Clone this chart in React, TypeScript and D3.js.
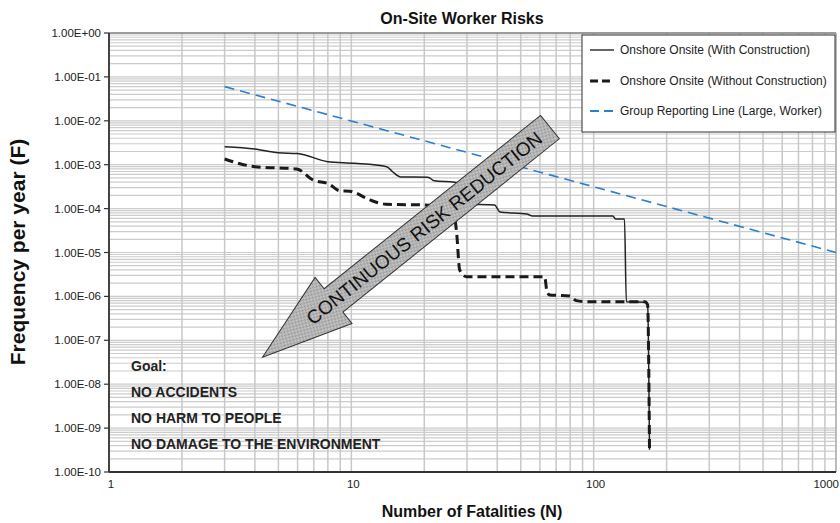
import React, { useEffect, useRef } from "react";
import * as d3 from "d3";

// F-N curve values
const withConstructionN = [3, 4, 5, 6, 8, 10.3, 14, 14.8, 16, 20.7, 22, 26.7, 28.5, 29.5, 39, 41, 53, 56, 120, 123, 134, 136.4, 164, 167, 170];
const withConstructionF = [2.57e-3, 2.28e-3, 1.87e-3, 1.8e-3, 1.17e-3, 1.08e-3, 9.0e-4, 6.9e-4, 5.25e-4, 5.2e-4, 4.3e-4, 4.0e-4, 3.6e-4, 1.27e-4, 1.21e-4, 8.4e-5, 7.5e-5, 6.8e-5, 6.8e-5, 5.8e-5, 5.8e-5, 7.6e-7, 7.4e-7, 6.4e-7, 3.2e-10];

const withoutConstructionN = [3, 4, 5.95, 6.95, 8.1, 8.95, 9.85, 11.9, 13.9, 21, 26, 27.2, 28, 29.9, 62.8, 64, 65.7, 79.6, 84.8, 93, 162.5, 167, 170];
const withoutConstructionF = [1.35e-3, 9.0e-4, 8.0e-4, 4.5e-4, 3.6e-4, 2.55e-4, 2.5e-4, 1.58e-4, 1.26e-4, 1.2e-4, 1.1e-4, 2.8e-5, 4e-6, 2.8e-6, 2.8e-6, 1.4e-6, 1.08e-6, 1.02e-6, 8.0e-7, 7.6e-7, 7.6e-7, 6.4e-7, 3.2e-10];

const reportingLineN = [3, 1000];
const reportingLineF = [0.06, 1e-5];

const xTicks = [1, 10, 100, 1000];
const yTicks = [1, 1e-1, 1e-2, 1e-3, 1e-4, 1e-5, 1e-6, 1e-7, 1e-8, 1e-9, 1e-10];
const yTickLabels = ["1.00E+00", "1.00E-01", "1.00E-02", "1.00E-03", "1.00E-04", "1.00E-05", "1.00E-06", "1.00E-07", "1.00E-08", "1.00E-09", "1.00E-10"];

const legendLabels = ["Onshore Onsite (With Construction)", "Onshore Onsite (Without Construction)", "Group Reporting Line (Large, Worker)"];
const goalLines = ["Goal:", "NO ACCIDENTS", "NO HARM TO PEOPLE", "NO DAMAGE TO THE ENVIRONMENT"];

// big annotation arrow, tip and tail centre in data units
const arrowTip = [4.3, 4.1e-8];
const arrowTail = [66, 7.2e-3];

const FONT = "'Liberation Sans', Arial, Helvetica, sans-serif";

export default function App() {
  const ref = useRef<SVGSVGElement>(null);

  useEffect(() => {
    const svg = d3.select(ref.current);
    svg.selectAll("*").remove();

    const left = 109, right = 836, top = 33, bottom = 472;
    const x = d3.scaleLog().domain([1, 1000]).range([left, right]);
    const y = d3.scaleLog().domain([1e-10, 1]).range([bottom, top]);

    const defs = svg.append("defs");
    const pat = defs.append("pattern")
      .attr("id", "hatch")
      .attr("width", 2).attr("height", 2)
      .attr("patternUnits", "userSpaceOnUse");
    pat.append("rect").attr("width", 2).attr("height", 2).attr("fill", "#cfcfcf");
    pat.append("rect").attr("width", 1).attr("height", 1).attr("fill", "#8c8c8c");
    pat.append("rect").attr("x", 1).attr("y", 1).attr("width", 1).attr("height", 1).attr("fill", "#a0a0a0");

    // grid
    const grid = svg.append("g");
    const xGrid: number[] = [];
    for (let k = 0; k < 3; k++) for (let m = 1; m < 10; m++) xGrid.push(m * Math.pow(10, k));
    xGrid.push(1000);
    const yGrid: number[] = [];
    for (let k = -10; k < 0; k++) for (let m = 1; m < 10; m++) yGrid.push(m * Math.pow(10, k));
    yGrid.push(1);

    grid.selectAll(".hg").data(yGrid).enter().append("line")
      .attr("x1", left).attr("x2", right)
      .attr("y1", d => y(d)).attr("y2", d => y(d))
      .attr("stroke", "#cccccc").attr("stroke-width", 1.2);
    grid.selectAll(".vg").data(xGrid).enter().append("line")
      .attr("y1", top).attr("y2", bottom)
      .attr("x1", d => x(d)).attr("x2", d => x(d))
      .attr("stroke", "#c8c8c8").attr("stroke-width", 1.5);

    // frame
    svg.append("line").attr("x1", left).attr("x2", right).attr("y1", top).attr("y2", top)
      .attr("stroke", "#555").attr("stroke-width", 1.2);
    svg.append("line").attr("x1", right).attr("x2", right).attr("y1", top).attr("y2", bottom)
      .attr("stroke", "#aaa").attr("stroke-width", 1.2);
    svg.append("line").attr("x1", left).attr("x2", right).attr("y1", bottom).attr("y2", bottom)
      .attr("stroke", "#333").attr("stroke-width", 1.8);
    svg.append("line").attr("x1", left).attr("x2", left).attr("y1", top).attr("y2", bottom)
      .attr("stroke", "#333").attr("stroke-width", 1.8);

    // y ticks
    svg.selectAll(".yt").data(yTicks).enter().append("line")
      .attr("x1", left - 5).attr("x2", left)
      .attr("y1", d => y(d)).attr("y2", d => y(d))
      .attr("stroke", "#333").attr("stroke-width", 1.2);
    svg.selectAll(".yl").data(yTicks).enter().append("text")
      .attr("x", 101).attr("y", d => y(d)).attr("dy", "0.35em")
      .attr("text-anchor", "end")
      .attr("font-family", FONT).attr("font-size", 11.5).attr("fill", "#222")
      .text((d, i) => yTickLabels[i]);

    svg.selectAll(".xl").data(xTicks).enter().append("text")
      .attr("x", d => (d === 1000 ? 839 : x(d) + 2)).attr("y", 488)
      .attr("text-anchor", d => (d === 1000 ? "end" : "middle"))
      .attr("font-family", FONT).attr("font-size", 11.5).attr("fill", "#222")
      .text(d => String(d));

    // titles
    svg.append("text").attr("x", 462).attr("y", 24).attr("text-anchor", "middle")
      .attr("font-family", FONT).attr("font-weight", "bold").attr("font-size", 16).attr("fill", "#111")
      .text("On-Site Worker Risks");
    svg.append("text").attr("x", 472).attr("y", 517).attr("text-anchor", "middle")
      .attr("font-family", FONT).attr("font-weight", "bold").attr("font-size", 16).attr("fill", "#111")
      .text("Number of Fatalities (N)");
    svg.append("text").attr("transform", "translate(25,252) rotate(-90)").attr("text-anchor", "middle")
      .attr("font-family", FONT).attr("font-weight", "bold").attr("font-size", 21).attr("fill", "#111")
      .text("Frequency per year (F)");

    // series
    const line = d3.line<[number, number]>()
      .x(d => x(d[0])).y(d => y(d[1]))
      .curve(d3.curveMonotoneX);

    const zip = (a: number[], b: number[]) => a.map((v, i) => [v, b[i]] as [number, number]);

    svg.append("path").attr("d", line(zip(reportingLineN, reportingLineF)))
      .attr("fill", "none").attr("stroke", "#2b7fce").attr("stroke-width", 1.6)
      .attr("stroke-dasharray", "10,6");
    svg.append("path").attr("d", line(zip(withConstructionN, withConstructionF)))
      .attr("fill", "none").attr("stroke", "#222").attr("stroke-width", 1.5);
    svg.append("path").attr("d", line(zip(withoutConstructionN, withoutConstructionF)))
      .attr("fill", "none").attr("stroke", "#1a1a1a").attr("stroke-width", 3)
      .attr("stroke-dasharray", "9,5");

    // arrow
    const tx = x(arrowTip[0]), ty = y(arrowTip[1]);
    const ex = x(arrowTail[0]), ey = y(arrowTail[1]);
    const len = Math.hypot(ex - tx, ey - ty);
    const ang = Math.atan2(ey - ty, ex - tx) * 180 / Math.PI;
    const headLen = 91, headHalf = 29.5, shaftHalf = 15;
    const shape = [[0, 0], [headLen, -headHalf], [headLen, -shaftHalf], [len, -shaftHalf], [len, shaftHalf], [headLen, shaftHalf], [headLen, headHalf]];
    const ag = svg.append("g").attr("transform", `translate(${tx},${ty}) rotate(${ang})`);
    ag.append("path").attr("d", "M" + shape.map(p => p.join(",")).join("L") + "Z")
      .attr("fill", "url(#hatch)").attr("stroke", "#333").attr("stroke-width", 1);
    ag.append("text").attr("x", 207).attr("y", 0).attr("dy", "0.36em")
      .attr("text-anchor", "middle")
      .attr("font-family", FONT).attr("font-size", 19).attr("fill", "#111")
      .text("CONTINUOUS RISK REDUCTION");

    // goal text
    svg.selectAll(".goal").data(goalLines).enter().append("text")
      .attr("x", 131).attr("y", (d, i) => 371 + i * 26)
      .attr("font-family", FONT).attr("font-weight", "bold").attr("font-size", 14).attr("fill", "#222")
      .text(d => d);

    // legend
    const lg = svg.append("g");
    lg.append("rect").attr("x", 582).attr("y", 35).attr("width", 253).attr("height", 97)
      .attr("fill", "#fff").attr("stroke", "#333").attr("stroke-width", 1);
    const rowY = [50, 81, 111];
    const styles = [
      { stroke: "#333", width: 1.5, dash: null },
      { stroke: "#1a1a1a", width: 3, dash: "8,4" },
      { stroke: "#2b7fce", width: 2, dash: "9,5" },
    ];
    legendLabels.forEach((lab, i) => {
      lg.append("line").attr("x1", 590).attr("x2", 614).attr("y1", rowY[i]).attr("y2", rowY[i])
        .attr("stroke", styles[i].stroke).attr("stroke-width", styles[i].width)
        .attr("stroke-dasharray", styles[i].dash);
      lg.append("text").attr("x", 620).attr("y", rowY[i]).attr("dy", "0.35em")
        .attr("font-family", FONT).attr("font-size", 12).attr("fill", "#222")
        .text(lab);
    });
  }, []);

  return (
    <svg ref={ref} width={840} height={523} style={{ position: "absolute", left: 0, top: 0, background: "#fff" }}></svg>
  );
}
